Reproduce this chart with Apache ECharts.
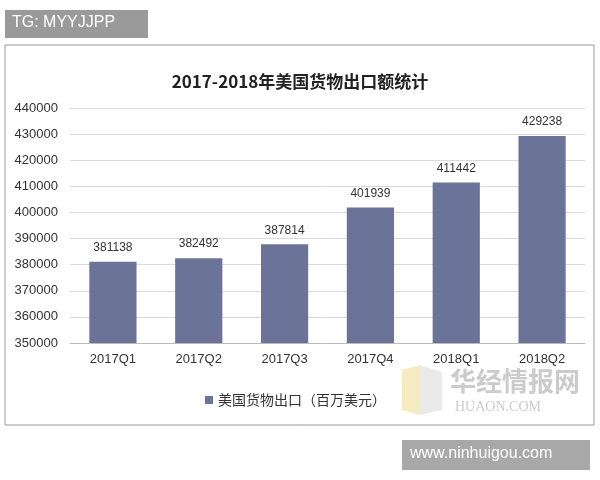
<!DOCTYPE html>
<html><head><meta charset="utf-8">
<script src="https://cdn.jsdelivr.net/npm/echarts@6/dist/echarts.min.js"></script>
<style>body{margin:0;background:#fff}#c{width:600px;height:480px}</style>
</head><body><div id="c"></div>
<script>
const categories=['2017Q1','2017Q2','2017Q3','2017Q4','2018Q1','2018Q2'];
const values=[381138,382492,387814,401939,411442,429238];
const seriesName='美国货物出口（百万美元）';
const chart=echarts.init(document.getElementById('c'));
chart.setOption({
  animation:false,
  graphic:[
    {type:'rect',shape:{x:5,y:45,width:589,height:380},style:{fill:'none',stroke:'#999',lineWidth:1}},
    {type:'rect',shape:{x:5,y:10,width:143,height:28},style:{fill:'#9a9a9a'}},
    {type:'text',left:12,top:15,style:{text:'TG: MYYJJPP',fill:'#fff',font:'16px "Liberation Sans"'}},
    {type:'rect',shape:{x:402,y:440,width:188,height:30},style:{fill:'#a8a8a8'}},
    {type:'text',left:410,top:446,style:{text:'www.ninhuigou.com',fill:'#fff',font:'16px "Liberation Sans"'}},
    {type:'text',left:450,top:368,style:{text:'华经情报网',fill:'rgba(190,190,190,0.8)',font:'bold 26px "Noto Sans CJK SC"'}},
    {type:'text',left:455,top:400,style:{text:'HUAON.COM',fill:'rgba(190,190,190,0.8)',font:'14px "Liberation Serif"'}},
    {type:'polygon',shape:{points:[[402,370],[420,365],[420,415],[402,410]]},style:{fill:'rgba(240,220,150,0.6)'}},
    {type:'polygon',shape:{points:[[420,365],[442,372],[442,410],[420,415]]},style:{fill:'rgba(220,220,220,0.6)'}}
  ],
  title:{text:'2017-2018年美国货物出口额统计',left:'center',top:68,textStyle:{fontSize:17,fontWeight:'bold',color:'#222',fontFamily:'Noto Sans CJK SC'}},
  legend:{bottom:68,left:200,itemWidth:8,itemHeight:8,icon:'rect',textStyle:{fontSize:14,color:'#333',fontFamily:'Noto Sans CJK SC'},data:[seriesName]},
  grid:{left:70,right:15,top:108,bottom:137},
  xAxis:{type:'category',data:categories,axisTick:{show:false},axisLine:{lineStyle:{color:'#bbb'}},axisLabel:{color:'#333',fontSize:13,margin:10}},
  yAxis:{type:'value',min:350000,max:440000,interval:10000,axisLabel:{color:'#333',fontSize:13,margin:12,formatter:v=>String(v)},splitLine:{lineStyle:{color:'#d9d9d9'}},axisLine:{show:false}},
  series:[{name:seriesName,type:'bar',data:values,barWidth:'55%',itemStyle:{color:'#6b7399'},label:{show:true,position:'top',color:'#333',fontSize:12,distance:8}}]
});
</script></body></html>
